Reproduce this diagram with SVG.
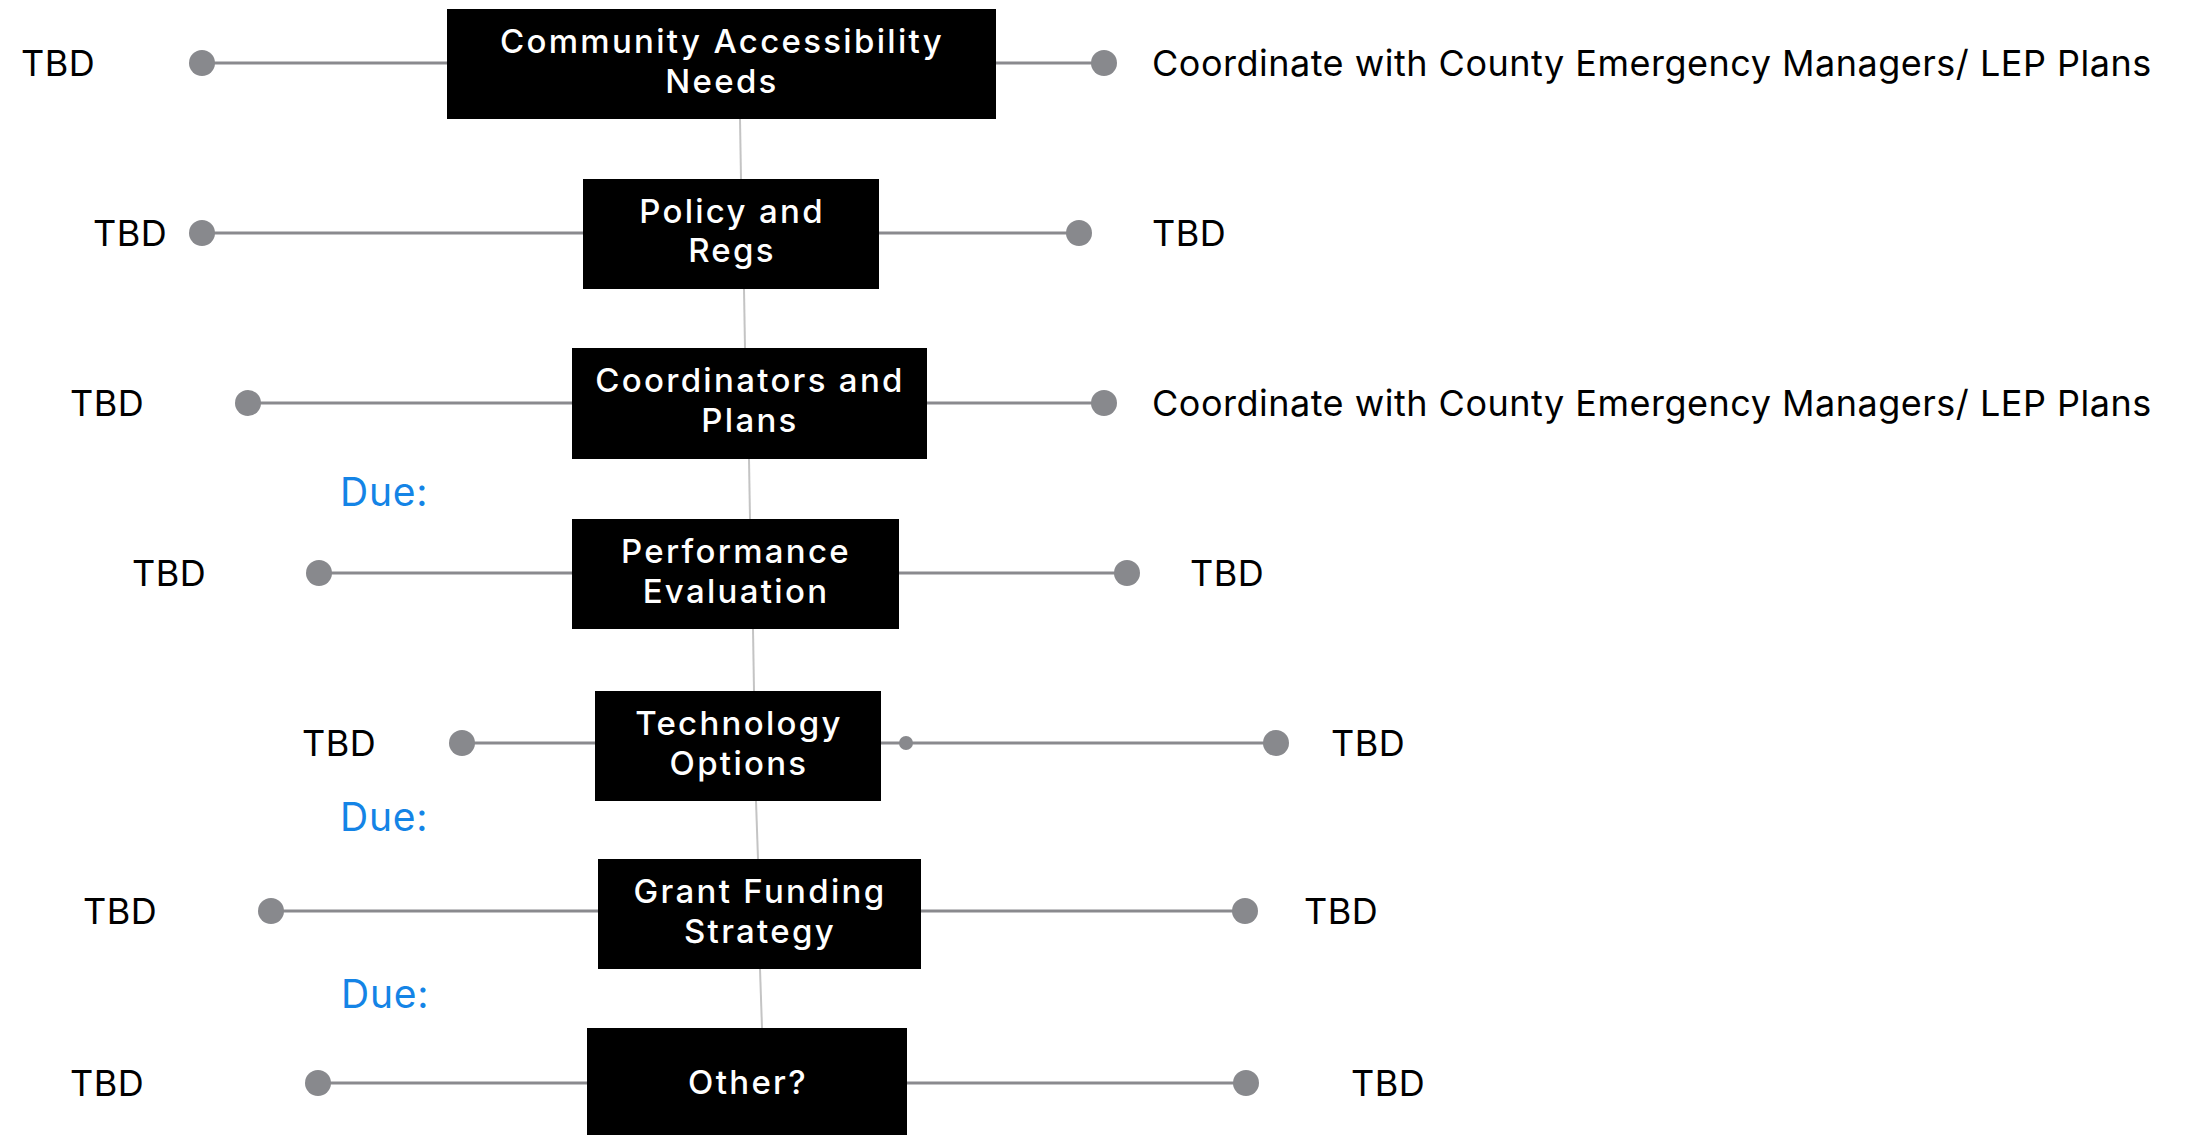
<svg xmlns="http://www.w3.org/2000/svg" width="2192" height="1135" viewBox="0 0 2192 1135">
<style>
.box{fill:#000}
.nt{font-family:Inter,"Open Sans","Liberation Sans",sans-serif;font-size:33px;font-weight:500;letter-spacing:2.3px;fill:#fff;text-anchor:middle}
.lb{font-family:Inter,"Open Sans","Liberation Sans",sans-serif;font-size:36px;font-weight:400;letter-spacing:0.5px;fill:#000}
.due{font-family:Inter,"Open Sans","Liberation Sans",sans-serif;font-size:39px;font-weight:400;letter-spacing:0.8px;fill:#1484e6}
.h{stroke:#8a8a8e;stroke-width:3;fill:none}
.v{stroke:#c4c4c4;stroke-width:2;fill:none}
.dot{fill:#88898d}
</style>
<rect width="2192" height="1135" fill="#fff"/>
<g id="connectors">
<line class="v" x1="740" y1="119" x2="741" y2="179"/>
<line class="v" x1="744" y1="289" x2="745" y2="348"/>
<line class="v" x1="749" y1="459" x2="750" y2="519"/>
<line class="v" x1="753" y1="629" x2="754" y2="691"/>
<line class="v" x1="756" y1="801" x2="758" y2="859"/>
<line class="v" x1="760" y1="969" x2="762" y2="1028"/>
<line class="h" x1="202" y1="63" x2="447" y2="63"/>
<line class="h" x1="996" y1="63" x2="1104" y2="63"/>
<line class="h" x1="202" y1="233" x2="583" y2="233"/>
<line class="h" x1="879" y1="233" x2="1079" y2="233"/>
<line class="h" x1="248" y1="403" x2="572" y2="403"/>
<line class="h" x1="927" y1="403" x2="1104" y2="403"/>
<line class="h" x1="319" y1="573" x2="572" y2="573"/>
<line class="h" x1="899" y1="573" x2="1127" y2="573"/>
<line class="h" x1="462" y1="743" x2="595" y2="743"/>
<line class="h" x1="881" y1="743" x2="1276" y2="743"/>
<line class="h" x1="271" y1="911" x2="598" y2="911"/>
<line class="h" x1="921" y1="911" x2="1245" y2="911"/>
<line class="h" x1="318" y1="1083" x2="587" y2="1083"/>
<line class="h" x1="907" y1="1083" x2="1246" y2="1083"/>
<circle class="dot" cx="202" cy="63" r="13"/>
<circle class="dot" cx="1104" cy="63" r="13"/>
<circle class="dot" cx="202" cy="233" r="13"/>
<circle class="dot" cx="1079" cy="233" r="13"/>
<circle class="dot" cx="248" cy="403" r="13"/>
<circle class="dot" cx="1104" cy="403" r="13"/>
<circle class="dot" cx="319" cy="573" r="13"/>
<circle class="dot" cx="1127" cy="573" r="13"/>
<circle class="dot" cx="462" cy="743" r="13"/>
<circle class="dot" cx="906" cy="743" r="7"/>
<circle class="dot" cx="1276" cy="743" r="13"/>
<circle class="dot" cx="271" cy="911" r="13"/>
<circle class="dot" cx="1245" cy="911" r="13"/>
<circle class="dot" cx="318" cy="1083" r="13"/>
<circle class="dot" cx="1246" cy="1083" r="13"/>
</g>
<g id="n1"><rect class="box" x="447" y="9" width="549" height="110"/><text class="nt" x="722" y="53">Community Accessibility</text><text class="nt" x="722" y="93">Needs</text></g>
<g id="n2"><rect class="box" x="583" y="179" width="296" height="110"/><text class="nt" x="732" y="223">Policy and</text><text class="nt" x="732" y="262">Regs</text></g>
<g id="n3"><rect class="box" x="572" y="348" width="355" height="111"/><text class="nt" x="750" y="392">Coordinators and</text><text class="nt" x="750" y="432">Plans</text></g>
<g id="n4"><rect class="box" x="572" y="519" width="327" height="110"/><text class="nt" x="736" y="563">Performance</text><text class="nt" x="736" y="603">Evaluation</text></g>
<g id="n5"><rect class="box" x="595" y="691" width="286" height="110"/><text class="nt" x="739" y="735">Technology</text><text class="nt" x="739" y="775">Options</text></g>
<g id="n6"><rect class="box" x="598" y="859" width="323" height="110"/><text class="nt" x="760" y="903">Grant Funding</text><text class="nt" x="760" y="943">Strategy</text></g>
<g id="n7"><rect class="box" x="587" y="1028" width="320" height="112"/><text class="nt" x="748" y="1094">Other?</text></g>
<g id="labels">
<text class="lb" x="21" y="76">TBD</text>
<text class="lb" x="1152" y="76">Coordinate with County Emergency Managers/ LEP Plans</text>
<text class="lb" x="93" y="246">TBD</text>
<text class="lb" x="1152" y="246">TBD</text>
<text class="lb" x="70" y="416">TBD</text>
<text class="lb" x="1152" y="416">Coordinate with County Emergency Managers/ LEP Plans</text>
<text class="lb" x="132" y="586">TBD</text>
<text class="lb" x="1190" y="586">TBD</text>
<text class="lb" x="302" y="756">TBD</text>
<text class="lb" x="1331" y="756">TBD</text>
<text class="lb" x="83" y="924">TBD</text>
<text class="lb" x="1304" y="924">TBD</text>
<text class="lb" x="70" y="1096">TBD</text>
<text class="lb" x="1351" y="1096">TBD</text>
<text class="due" x="340" y="506">Due:</text>
<text class="due" x="340" y="831">Due:</text>
<text class="due" x="341" y="1008">Due:</text>
</g>
</svg>
